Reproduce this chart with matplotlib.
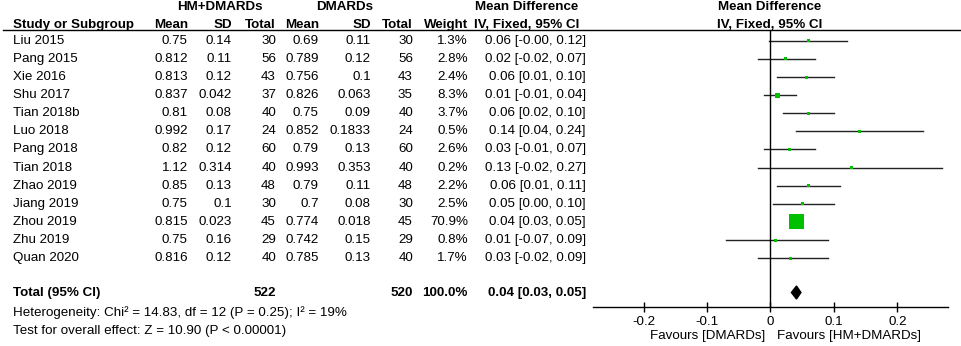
import matplotlib.pyplot as plt
from matplotlib.patches import Polygon
from matplotlib.transforms import blended_transform_factory

plt.rcParams['font.family'] = ['Liberation Sans', 'DejaVu Sans']

# study data
studies = ["Liu 2015", "Pang 2015", "Xie 2016", "Shu 2017", "Tian 2018b", "Luo 2018",
           "Pang 2018", "Tian 2018", "Zhao 2019", "Jiang 2019", "Zhou 2019", "Zhu 2019", "Quan 2020"]
hm_mean = ["0.75", "0.812", "0.813", "0.837", "0.81", "0.992", "0.82", "1.12", "0.85", "0.75", "0.815", "0.75", "0.816"]
hm_sd = ["0.14", "0.11", "0.12", "0.042", "0.08", "0.17", "0.12", "0.314", "0.13", "0.1", "0.023", "0.16", "0.12"]
hm_n = [30, 56, 43, 37, 40, 24, 60, 40, 48, 30, 45, 29, 40]
dm_mean = ["0.69", "0.789", "0.756", "0.826", "0.75", "0.852", "0.79", "0.993", "0.79", "0.7", "0.774", "0.742", "0.785"]
dm_sd = ["0.11", "0.12", "0.1", "0.063", "0.09", "0.1833", "0.13", "0.353", "0.11", "0.08", "0.018", "0.15", "0.13"]
dm_n = [30, 56, 43, 35, 40, 24, 60, 40, 48, 30, 45, 29, 40]
weight = [1.3, 2.8, 2.4, 8.3, 3.7, 0.5, 2.6, 0.2, 2.2, 2.5, 70.9, 0.8, 1.7]
md = [0.06, 0.023, 0.057, 0.011, 0.06, 0.14, 0.03, 0.127, 0.06, 0.05, 0.041, 0.008, 0.031]
ci_lo = [-0.003, -0.02, 0.01, -0.01, 0.02, 0.04, -0.01, -0.02, 0.01, 0.004, 0.03, -0.07, -0.02]
ci_hi = [0.12, 0.07, 0.10, 0.04, 0.10, 0.24, 0.07, 0.27, 0.11, 0.10, 0.05, 0.09, 0.09]

total_hm, total_dm = 522, 520
total_md, total_lo, total_hi = 0.041, 0.033, 0.048
het_text = "Heterogeneity: Chi² = 14.83, df = 12 (P = 0.25); I² = 19%"
test_text = "Test for overall effect: Z = 10.90 (P < 0.00001)"
ticks = [-0.2, -0.1, 0, 0.1, 0.2]

W, H = 962, 346
fig = plt.figure(figsize=(W / 100, H / 100), dpi=100)

top_px, bot_px = 30, 307
ylim = (14.7, -0.6)
total_y = 13.9
fs = 9.6

# table (text) axes covering the full width
tab = fig.add_axes([0, 1 - bot_px / H, 1, (bot_px - top_px) / H])
tab.set_xlim(0, W)
tab.set_ylim(*ylim)
tab.axis('off')

# forest axes
fx0, fx1 = 593, 948
ax = fig.add_axes([fx0 / W, 1 - bot_px / H, (fx1 - fx0) / W, (bot_px - top_px) / H])
ax.set_xlim(-0.28, 0.28)
ax.set_ylim(*ylim)

def txt(x, y, s, ha='right', bold=False):
    tab.text(x, y, s, ha=ha, va='center', fontsize=fs,
             fontweight='bold' if bold else 'normal', clip_on=False)

# headers
txt(220, -1.88, "HM+DMARDs", ha='center', bold=True)
txt(345, -1.88, "DMARDs", ha='center', bold=True)
txt(527, -1.88, "Mean Difference", ha='center', bold=True)
txt(527, -0.88, "IV, Fixed, 95% CI", ha='center', bold=True)
txt(770, -1.88, "Mean Difference", ha='center', bold=True)
txt(770, -0.88, "IV, Fixed, 95% CI", ha='center', bold=True)
txt(13, -0.88, "Study or Subgroup", ha='left', bold=True)
for x, s in [(188, "Mean"), (232, "SD"), (276, "Total"), (319, "Mean"),
             (371, "SD"), (413, "Total"), (468, "Weight")]:
    txt(x, -0.88, s, bold=True)
tab.plot([3, 960], [-0.6, -0.6], color='black', lw=1, clip_on=False)

# rows
for i, name in enumerate(studies):
    txt(13, i, name, ha='left')
    txt(188, i, hm_mean[i])
    txt(232, i, hm_sd[i])
    txt(276, i, str(hm_n[i]))
    txt(319, i, dm_mean[i])
    txt(371, i, dm_sd[i])
    txt(413, i, str(dm_n[i]))
    txt(468, i, f"{weight[i]:.1f}%")
    txt(586, i, f"{md[i]:.2f} [{ci_lo[i]:.2f}, {ci_hi[i]:.2f}]")

    ax.plot([ci_lo[i], ci_hi[i]], [i, i], color='#222222', lw=1)
    side = max(3.0, 15 * (weight[i] / 70.9) ** 0.5)
    ax.scatter(md[i], i, marker='s', s=(side * 0.72) ** 2, color='#00c000',
               edgecolors='none', zorder=3)

# total row
txt(13, total_y, "Total (95% CI)", ha='left', bold=True)
txt(276, total_y, str(total_hm), bold=True)
txt(413, total_y, str(total_dm), bold=True)
txt(468, total_y, "100.0%", bold=True)
txt(586, total_y, f"{total_md:.2f} [{total_lo:.2f}, {total_hi:.2f}]", bold=True)
txt(13, 15.03, het_text, ha='left')
txt(13, 16.0, test_text, ha='left')

diamond = Polygon([[total_lo, total_y], [total_md, total_y - 0.36],
                   [total_hi, total_y], [total_md, total_y + 0.36]],
                  closed=True, facecolor='black', edgecolor='black')
ax.add_patch(diamond)

# axis styling
ax.axvline(0, color='black', lw=1)
for side_name in ['top', 'left', 'right']:
    ax.spines[side_name].set_visible(False)
ax.spines['bottom'].set_linewidth(1)
ax.set_yticks([])
ax.set_xticks(ticks)
ax.set_xticklabels(["-0.2", "-0.1", "0", "0.1", "0.2"])
ax.tick_params(axis='x', direction='inout', length=7, width=1, labelsize=fs, pad=3)
ax.patch.set_alpha(0)

trans = blended_transform_factory(ax.transData, fig.transFigure)
ax.text(-0.008, 1 - 336 / H, "Favours [DMARDs]", ha='right', va='center',
        fontsize=fs, transform=trans)
ax.text(0.011, 1 - 336 / H, "Favours [HM+DMARDs]", ha='left', va='center',
        fontsize=fs, transform=trans)

fig.savefig("out.png", dpi=100)
